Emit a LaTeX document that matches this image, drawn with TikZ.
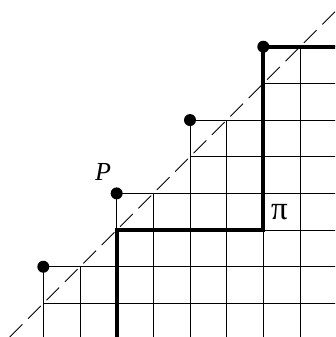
\documentclass[tikz,border=0pt]{standalone}
\usepackage{fontspec}
\setmainfont{Liberation Serif}
\begin{document}
\begin{tikzpicture}[x=36.67pt,y=36.67pt,
  gridline/.style={line width=0.9pt,black},
  pathline/.style={line width=4pt,black,line join=miter},
  diag/.style={line width=0.8pt,dash pattern=on 18pt off 8pt},
  latdot/.style={circle,fill=black,inner sep=0pt,minimum size=12pt},
  lbl/.style={inner sep=0pt,font=\fontsize{26}{30}\selectfont},
  pilbl/.style={inner sep=0pt,font=\fontsize{33}{36}\selectfont}]
\useasboundingbox (-1.181,-0.916) rectangle (7.955,8.274);
\clip (-1.181,-0.916) rectangle (7.955,8.274);
% horizontal grid lines
\foreach \b/\a in {7/6,6/6,5/4,4/4,3/2,2/2,1/0,0/0}
  \draw[gridline] (\a,\b) -- (8.2,\b);
% vertical grid lines
\foreach \a/\b in {0/1,1/1,2/3,3/3,4/5,5/5,6/7,7/7}
  \draw[gridline] (\a,\b) -- (\a,-1.2);
% diagonal
\coordinate (d0) at (-0.916,-0.916);
\coordinate (d1) at (8.3,8.3);
\draw[diag] (d0) -- (d1);
% lattice path
\coordinate (p0) at (2,-1.2);
\coordinate (p1) at (2,2);
\coordinate (p2) at (6,2);
\coordinate (p3) at (6,7);
\coordinate (p4) at (8.2,7);
\draw[pathline] (p0) -- (p1) -- (p2) -- (p3) -- (p4);
% dots
\node[latdot] (v1) at (0,1) {};
\node[latdot] (v2) at (2,3) {};
\node[latdot] (v3) at (4,5) {};
\node[latdot] (v4) at (6,7) {};
% labels
\node[lbl] (lP) at (1.63,3.58) {\textit{P}};
\node[pilbl] (lpi) at (6.44,2.50) {π};
\end{tikzpicture}
\end{document}
